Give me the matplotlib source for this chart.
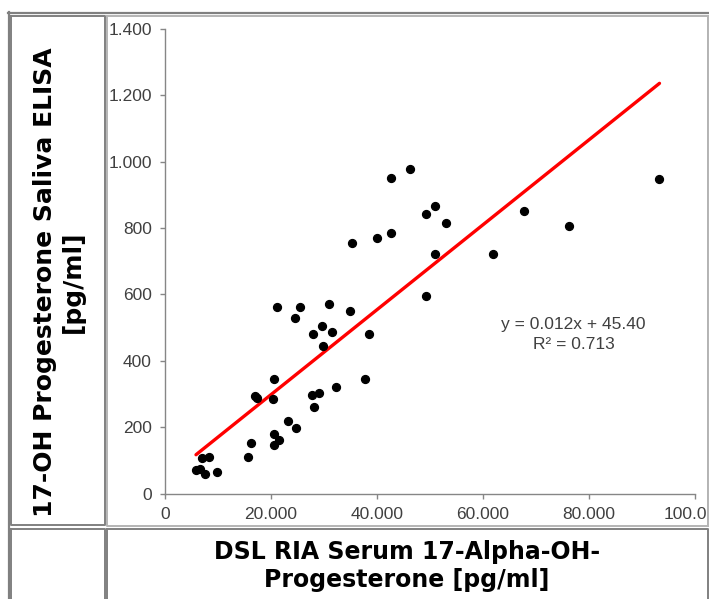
import matplotlib
matplotlib.use('Agg')
import matplotlib.pyplot as plt
from matplotlib.ticker import FuncFormatter
import numpy as np

# RIA serum values (x) vs saliva ELISA values (y), pg/ml
ria_serum = [5850, 6600, 6900, 8300, 7600, 9900, 15600, 16200, 17000, 17400,
             20400, 20500, 20500, 20500, 21600, 21200, 23200, 24700, 24500, 25400,
             27800, 29000, 28200, 28000, 29600, 29800, 31600, 30900, 32300, 34900,
             35300, 40000, 42600, 42600, 46200, 49200, 50900, 53000, 50900, 49200,
             61800, 38400, 37700, 67700, 76200, 93300]
elisa_saliva = [71, 74, 106, 109, 58, 64, 110, 153, 295, 289,
                286, 345, 179, 145, 161, 561, 218, 198, 528, 563,
                297, 303, 261, 480, 506, 444, 486, 571, 320, 551,
                756, 771, 785, 951, 977, 842, 868, 815, 722, 596,
                722, 480, 345, 851, 807, 948]

# trendline as drawn in the picture
trend_slope = 0.0128
trend_intercept = 42.0
equation_text = "y = 0.012x + 45.40\nR² = 0.713"

x_ticks = [0, 20000, 40000, 60000, 80000, 100000]
y_ticks = [0, 200, 400, 600, 800, 1000, 1200, 1400]

W, H = 709, 599
fig = plt.figure(figsize=(W / 100, H / 100), dpi=100)

# table borders drawn in image pixel coordinates
bg = fig.add_axes([0, 0, 1, 1], zorder=0)
bg.set_xlim(0, W)
bg.set_ylim(H, 0)
bg.axis('off')
dark = '#808080'
light = '#b4b4b4'
bg.plot([8.5, 8.5], [12, H], color=dark, lw=1.6)
bg.plot([8, W], [13, 13], color=dark, lw=1.6)
for (x0, y0, x1, y1, c) in [(11, 15.5, 105, 525, dark),
                            (107, 15.5, 707.5, 525.5, light),
                            (11, 529, 105, H + 5, dark),
                            (107, 529, 707.5, H + 5, dark)]:
    bg.plot([x0, x1, x1, x0, x0], [y0, y0, y1, y1, y0], color=c, lw=1.4)

ax = fig.add_axes([165 / W, 1 - 493.5 / H, 530 / W, (493.5 - 29) / H], zorder=1)
ax.scatter(ria_serum, elisa_saliva, s=32, color='black', zorder=3)
tx = np.array([min(ria_serum), max(ria_serum)])
ax.plot(tx, trend_slope * tx + trend_intercept, color='#ff0000', lw=2.4,
        solid_capstyle='round', zorder=2)

ax.set_xlim(0, 100000)
ax.set_ylim(0, 1400)
ax.set_xticks(x_ticks)
ax.set_yticks(y_ticks)
fmt = FuncFormatter(lambda v, p: f"{int(v):,}".replace(',', '.'))
ax.xaxis.set_major_formatter(fmt)
ax.yaxis.set_major_formatter(fmt)
for s in ['top', 'right']:
    ax.spines[s].set_visible(False)
for s in ['left', 'bottom']:
    ax.spines[s].set_color('#868686')
    ax.spines[s].set_linewidth(1.0)
ax.tick_params(direction='out', length=3.5, width=1.0, color='#868686',
               labelcolor='#404040', labelsize=12.5, pad=6)
for lab in ax.get_xticklabels() + ax.get_yticklabels():
    lab.set_fontfamily('Liberation Sans')
ax.patch.set_alpha(0)

ax.text(0.771, 0.342, equation_text, transform=ax.transAxes, ha='center',
        va='center', fontsize=12.5, color='#404040', family='Liberation Sans',
        linespacing=1.45)

# white strip over the overflow past the right cell border
over = fig.add_axes([0, 0, 1, 1], zorder=5)
over.set_xlim(0, W)
over.set_ylim(H, 0)
over.axis('off')
over.fill_between([708.2, W], 16, 525, color='white')
over.plot([707.5, 707.5], [15.5, 525.5], color=light, lw=1.4)

fig.text(407 / W, 1 - 566 / H, "DSL RIA Serum 17-Alpha-OH-\nProgesterone [pg/ml]",
         ha='center', va='center', ma='center', fontsize=17,
         fontweight='bold', family='DejaVu Sans', linespacing=1.18)
fig.text(59 / W, 1 - 282 / H, "17-OH Progesterone Saliva ELISA\n[pg/ml]",
         ha='center', va='center', ma='center', rotation=90, fontsize=18,
         fontweight='bold', family='DejaVu Sans', linespacing=1.18)

fig.savefig('out.png', dpi=100, facecolor='white')
